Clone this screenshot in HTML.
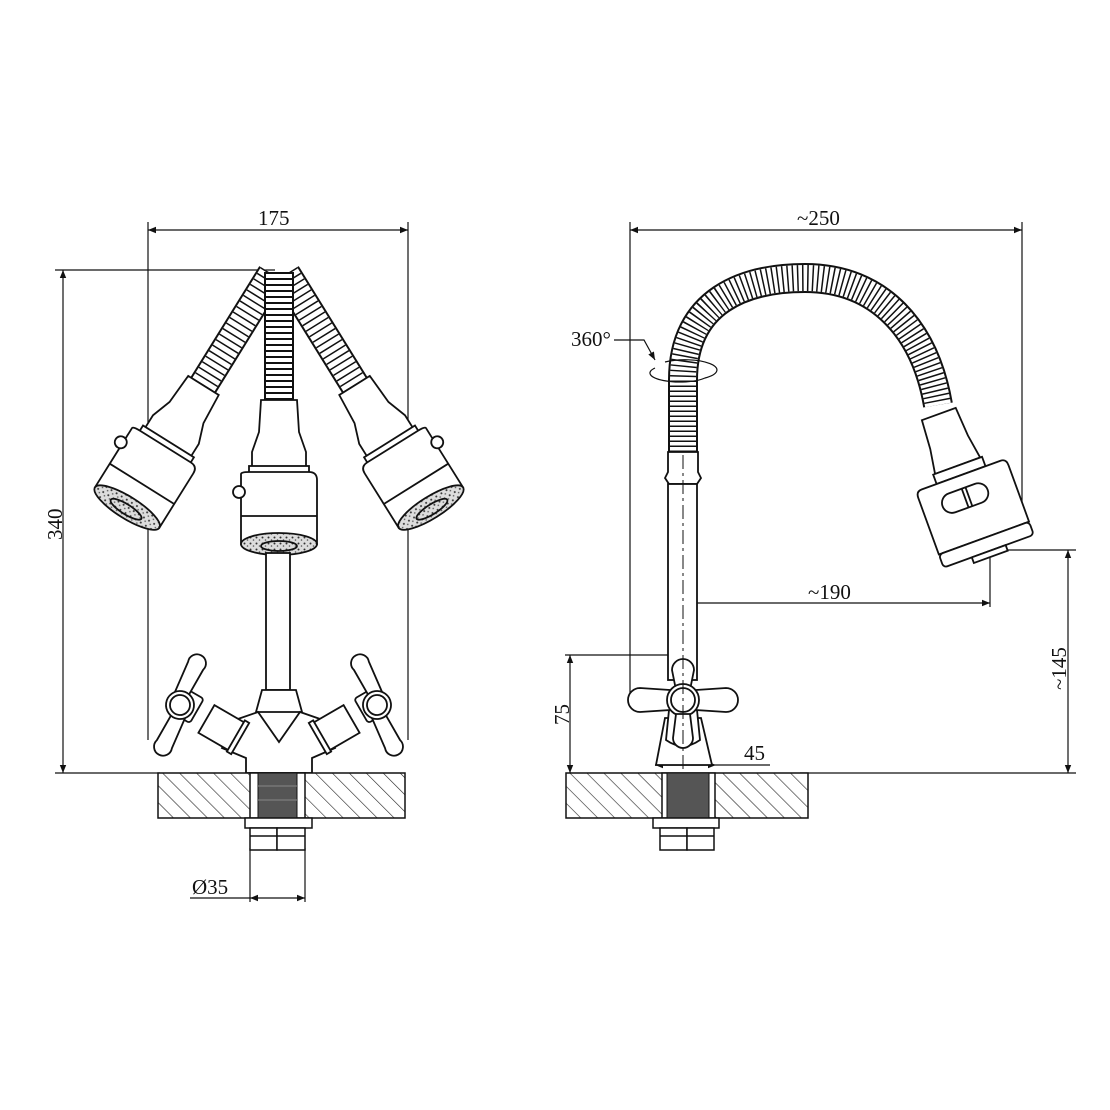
<!DOCTYPE html>
<html><head><meta charset="utf-8"><style>
html,body{margin:0;padding:0;background:#fff;}
svg{display:block;}
text{font-family:"Liberation Serif",serif;font-size:21px;fill:#111;}
</style></head><body>
<svg width="1110" height="1110" viewBox="0 0 1110 1110" xmlns="http://www.w3.org/2000/svg">
<defs>
<pattern id="hatch" patternUnits="userSpaceOnUse" width="12" height="12" patternTransform="rotate(-45)">
<rect width="12" height="12" fill="#fff"/><line x1="0" y1="0" x2="0" y2="12" stroke="#222" stroke-width="1.2"/>
</pattern>
<pattern id="speck" patternUnits="userSpaceOnUse" width="6" height="6">
<rect width="6" height="6" fill="#ddd"/><circle cx="1.5" cy="1.5" r="1" fill="#333"/><circle cx="4.5" cy="4" r="0.8" fill="#555"/>
</pattern>
<marker id="ar" viewBox="0 0 10 10" refX="10" refY="5" markerWidth="12" markerHeight="8" orient="auto-start-reverse" markerUnits="userSpaceOnUse">
<path d="M0,1 L10,5 L0,9 Z" fill="#111"/></marker>
<g id="head" fill="#fff" stroke="#111" stroke-width="1.8">
<path d="M-18,-82 L18,-82 L20,-50 L27,-30 L27,-14 L-27,-14 L-27,-30 L-20,-50 Z"/>
<rect x="-30" y="-16" width="60" height="8"/>
<path d="M-38,-8 Q-38,-10 -30,-10 L30,-10 Q38,-10 38,-2 L38,62 L-38,62 L-38,-2 Z"/>
<line x1="-38" y1="34" x2="38" y2="34"/>
<ellipse cx="0" cy="62" rx="38" ry="11" fill="url(#speck)"/>
<ellipse cx="0" cy="64" rx="18" ry="5" fill="url(#speck)"/>
<circle cx="-40" cy="10" r="6"/>
</g>
<g id="handle" fill="#fff" stroke="#111" stroke-width="1.8">
<path d="M-6,-8 L-18,-38 A9,9 0 1 1 -2,-44 L8,-8 Z"/>
<path d="M6,8 L18,38 A9,9 0 1 1 2,44 L-8,8 Z"/>
<circle cx="0" cy="0" r="14"/><circle cx="0" cy="0" r="10"/>
</g>
</defs>

<!-- LEFT VIEW dims -->
<g stroke="#111" stroke-width="1.2" fill="none">
<line x1="148" y1="222" x2="148" y2="740"/>
<line x1="408" y1="222" x2="408" y2="740"/>
<line x1="148" y1="230" x2="408" y2="230" marker-start="url(#ar)" marker-end="url(#ar)"/>
<line x1="55" y1="270" x2="275" y2="270"/>
<line x1="55" y1="773" x2="160" y2="773"/>
<line x1="63" y1="270" x2="63" y2="773" marker-start="url(#ar)" marker-end="url(#ar)"/>
<line x1="250" y1="848" x2="250" y2="902"/>
<line x1="305" y1="848" x2="305" y2="902"/>
<line x1="190" y1="898" x2="250" y2="898"/>
<line x1="250" y1="898" x2="305" y2="898" marker-start="url(#ar)" marker-end="url(#ar)"/>
</g>
<text x="258" y="225">175</text>
<text x="192" y="894">Ø35</text>
<text transform="translate(62,540) rotate(-90)">340</text>

<!-- left hoses -->
<g fill="none">
<path d="M272,274 L202,387" stroke="#111" stroke-width="30"/>
<path d="M272,274 L202,387" stroke="#fff" stroke-width="26"/>
<path d="M272,274 L202,387" stroke="#111" stroke-width="26" stroke-dasharray="1.5 5"/>
<path d="M286,274 L356,387" stroke="#111" stroke-width="30"/>
<path d="M286,274 L356,387" stroke="#fff" stroke-width="26"/>
<path d="M286,274 L356,387" stroke="#111" stroke-width="26" stroke-dasharray="1.5 5"/>
<path d="M279,272 L279,402" stroke="#111" stroke-width="30"/>
<path d="M279,272 L279,402" stroke="#fff" stroke-width="26"/>
<path d="M279,272 L279,402" stroke="#111" stroke-width="26" stroke-dasharray="2 4"/>
</g>
<use href="#head" transform="translate(160,455) rotate(32)"/>
<use href="#head" transform="translate(398,455) rotate(-32) scale(-1,1)"/>
<use href="#head" transform="translate(279,482)"/>

<!-- left body -->
<g fill="#fff" stroke="#111" stroke-width="1.8">
<rect x="266" y="553" width="24" height="137"/>
<path d="M262,690 L296,690 L302,712 L256,712 Z"/>
<path d="M235,720 L258,712 L279,742 L300,712 L323,720 L335,748 L312,758 L312,773 L246,773 L246,758 L222,748 Z"/>
<g transform="translate(222,728) rotate(30)"><rect x="-18" y="-16" width="36" height="32"/><rect x="16" y="-18" width="5" height="36"/></g>
<g transform="translate(336,728) rotate(-30)"><rect x="-18" y="-16" width="36" height="32"/><rect x="-21" y="-18" width="5" height="36"/></g>
<g transform="translate(183,703) rotate(30)"><rect x="-10" y="-14" width="26" height="28" rx="3"/></g>
<g transform="translate(375,703) rotate(-30)"><rect x="-16" y="-14" width="26" height="28" rx="3"/></g>
<use href="#handle" transform="translate(180,705) scale(-1,1) rotate(-8)"/>
<use href="#handle" transform="translate(377,705) rotate(-8)"/>
</g>

<!-- left countertop -->
<rect x="158" y="773" width="247" height="45" fill="url(#hatch)" stroke="#111" stroke-width="1.5"/>
<rect x="250" y="773" width="55" height="45" fill="#fff" stroke="#111" stroke-width="1.5"/>
<rect x="258" y="773" width="39" height="45" fill="#555" stroke="#111"/>
<g stroke="#888" stroke-width="1"><line x1="258" y1="786" x2="297" y2="786"/><line x1="258" y1="800" x2="297" y2="800"/></g>
<g fill="#fff" stroke="#111" stroke-width="1.5">
<rect x="245" y="818" width="67" height="10"/>
<rect x="250" y="828" width="27" height="22"/><rect x="277" y="828" width="28" height="22"/>
<line x1="250" y1="836" x2="305" y2="836"/>
</g>

<!-- RIGHT VIEW dims -->
<g stroke="#111" stroke-width="1.2" fill="none">
<line x1="630" y1="222" x2="630" y2="700"/>
<line x1="1022" y1="222" x2="1022" y2="515"/>
<line x1="630" y1="230" x2="1022" y2="230" marker-start="url(#ar)" marker-end="url(#ar)"/>
<polyline points="614,340 644,340 655,360" marker-end="url(#ar)"/>
<line x1="683" y1="603" x2="990" y2="603" marker-start="url(#ar)" marker-end="url(#ar)"/>
<line x1="990" y1="558" x2="990" y2="607"/>
<line x1="995" y1="550" x2="1076" y2="550"/>
<line x1="1068" y1="550" x2="1068" y2="773" marker-start="url(#ar)" marker-end="url(#ar)"/>
<line x1="565" y1="655" x2="690" y2="655"/>
<line x1="570" y1="655" x2="570" y2="773" marker-start="url(#ar)" marker-end="url(#ar)"/>
<line x1="655" y1="765" x2="716" y2="765" marker-start="url(#ar)" marker-end="url(#ar)"/>
<line x1="716" y1="765" x2="770" y2="765"/>
<line x1="800" y1="773" x2="1076" y2="773"/>
</g>
<text x="571" y="346">360°</text>
<text x="797" y="225">~250</text>
<text x="808" y="599">~190</text>
<text x="744" y="760">45</text>
<text transform="translate(1066,690) rotate(-90)">~145</text>
<text transform="translate(569,725) rotate(-90)">75</text>

<!-- right hose -->
<g fill="none">
<path d="M683,452 L683,380 C683,300 745,278 805,278 C880,278 925,330 938,405" stroke="#111" stroke-width="30"/>
<path d="M683,452 L683,380 C683,300 745,278 805,278 C880,278 925,330 938,405" stroke="#fff" stroke-width="26"/>
<path d="M683,452 L683,380 C683,300 745,278 805,278 C880,278 925,330 938,405" stroke="#111" stroke-width="26" stroke-dasharray="1.5 3.5"/>
</g>
<path d="M655,368 A30,9 0 0 0 705,378 A28,9 0 0 0 665,362" fill="none" stroke="#111" stroke-width="1.2"/>
<g fill="#fff" stroke="#111" stroke-width="1.8">
<path d="M668,452 L698,452 L698,472 L701,478 L697,484 L669,484 L665,478 L668,472 Z"/>
<rect x="668" y="484" width="29" height="196"/>
</g>

<!-- right head -->
<g transform="translate(973,508) rotate(-20)" fill="#fff" stroke="#111" stroke-width="1.8">
<path d="M-18,-100 L18,-100 L20,-70 L24,-45 L-24,-45 L-20,-70 Z"/>
<rect x="-26" y="-45" width="52" height="10"/>
<path d="M-42,-35 L42,-35 Q48,-35 48,-28 L48,32 L-48,32 L-48,-28 Q-48,-35 -42,-35 Z"/>
<rect x="-48" y="32" width="96" height="14" rx="4"/>
<rect x="-18" y="46" width="36" height="6"/>
<rect x="-28" y="-22" width="48" height="20" rx="10"/>
<line x1="-4" y1="-22" x2="-4" y2="-2"/><line x1="0" y1="-22" x2="0" y2="-2"/>
</g>

<!-- right body -->
<g fill="#fff" stroke="#111" stroke-width="1.8">
<path d="M665,718 L701,718 L712,765 L656,765 Z"/>
<path d="M670,700 Q683,680 696,700 L700,740 Q683,752 666,740 Z"/>
<path d="M672,670 A11,11 0 0 1 694,670 L690,690 L676,690 Z"/>
<path d="M670,690 L640,688 A11,11 0 1 0 640,712 L670,710 Z"/>
<path d="M696,690 L726,688 A11,11 0 1 1 726,712 L696,710 Z"/>
<circle cx="683" cy="700" r="16"/><circle cx="683" cy="700" r="12"/>
<path d="M676,714 L690,714 L693,738 A10,10 0 0 1 673,738 Z"/>
</g>
<line x1="683" y1="455" x2="683" y2="775" stroke="#111" stroke-width="1" stroke-dasharray="14 4 3 4"/>

<!-- right countertop -->
<rect x="566" y="773" width="242" height="45" fill="url(#hatch)" stroke="#111" stroke-width="1.5"/>
<rect x="662" y="773" width="53" height="45" fill="#fff" stroke="#111" stroke-width="1.5"/>
<rect x="667" y="773" width="42" height="45" fill="#555" stroke="#111"/>
<g fill="#fff" stroke="#111" stroke-width="1.5">
<rect x="653" y="818" width="66" height="10"/>
<rect x="660" y="828" width="27" height="22"/><rect x="687" y="828" width="27" height="22"/>
<line x1="660" y1="836" x2="714" y2="836"/>
</g>
</svg>
</body></html>
